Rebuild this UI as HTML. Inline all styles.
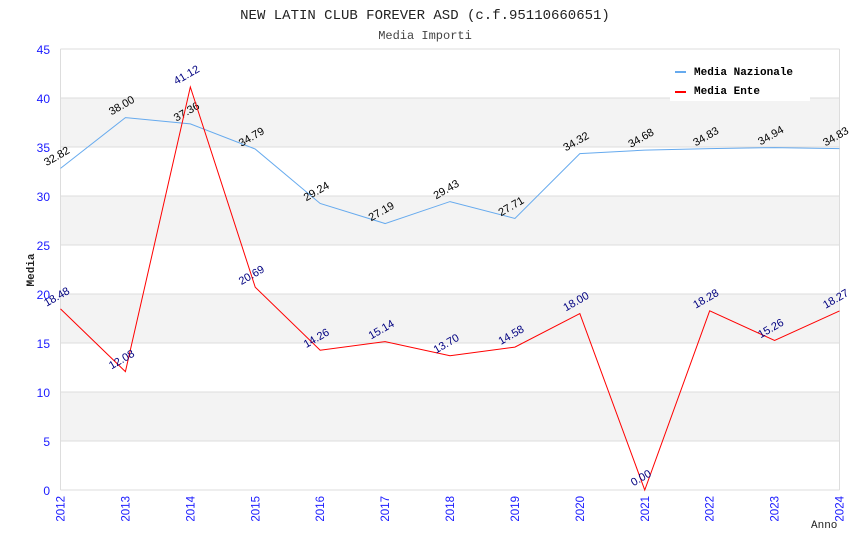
<!DOCTYPE html>
<html><head><meta charset="utf-8"><style>
html,body{margin:0;padding:0;background:#fff;}
svg{display:block;}
</style></head><body>
<svg id="chart" width="850" height="550" xmlns="http://www.w3.org/2000/svg">
<text x="425" y="19" text-anchor="middle" font-family="Liberation Mono, monospace" font-size="14" fill="#222">NEW LATIN CLUB FOREVER ASD (c.f.95110660651)</text>
<text x="425" y="39" text-anchor="middle" font-family="Liberation Mono, monospace" font-size="12" fill="#444">Media Importi</text>
<g id="bands"></g>
<g id="yticks"></g>
<g id="xticks"></g>
<g id="series"></g>
<text transform="translate(34,270) rotate(-90)" text-anchor="middle" font-family="Liberation Mono, monospace" font-size="11" font-weight="bold" fill="#222">Media</text>
<text x="811" y="528" font-family="Liberation Mono, monospace" font-size="11" fill="#222">Anno</text>
<g>
<rect x="670" y="55" width="140" height="46" fill="#fff"/>
<g>
<rect x="675" y="71" width="11" height="2" fill="#66aaee"/>
<text x="694" y="75" font-family="Liberation Mono, monospace" font-size="11" font-weight="bold" fill="#000">Media Nazionale</text></g>
<g>
<rect x="675" y="91" width="11" height="2" fill="#ff0000"/>
<text x="694" y="94" font-family="Liberation Mono, monospace" font-size="11" font-weight="bold" fill="#000">Media Ente</text></g>
</g>
</svg>
<script>
const years=[2012,2013,2014,2015,2016,2017,2018,2019,2020,2021,2022,2023,2024];
const nazionale=[32.82,38.00,37.36,34.79,29.24,27.19,29.43,27.71,34.32,34.68,34.83,34.94,34.83];
const ente=[18.48,12.08,41.12,20.69,14.26,15.14,13.70,14.58,18.00,0.00,18.28,15.26,18.27];
const yTicks=[0,5,10,15,20,25,30,35,40,45];
const NS='http://www.w3.org/2000/svg';
const L=60.5,R=839.5,T=49,B=490,yMax=45;
function xs(i){return L+(R-L)*i/(years.length-1);}
function ys(v){return B-(B-T)*v/yMax;}
function mk(tag,attrs,parent){const e=document.createElementNS(NS,tag);for(const k in attrs)e.setAttribute(k,attrs[k]);parent.appendChild(e);return e;}
const bands=document.getElementById('bands');
for(let i=0;i<yTicks.length-1;i++){
  if(i%2===1){const r=mk('rect',{x:L,y:ys(yTicks[i+1]),width:R-L,height:ys(yTicks[i])-ys(yTicks[i+1]),fill:'#f3f3f3'},bands);
  
  }
}
const yt=document.getElementById('yticks');
yTicks.forEach(v=>{
  const l=mk('line',{x1:L,x2:R,y1:ys(v),y2:ys(v),stroke:'#dddddd','stroke-width':1},yt);
  
  
  const t=mk('text',{x:50,y:ys(v)+5,'text-anchor':'end','font-family':'Liberation Sans, sans-serif','font-size':12,fill:'#1a1aff'},yt);
  t.textContent=v;
  
  
});
mk('line',{x1:L,x2:L,y1:T,y2:B,stroke:'#dddddd'},yt);
mk('line',{x1:R,x2:R,y1:T,y2:B,stroke:'#dddddd'},yt);
const xt=document.getElementById('xticks');
years.forEach((y,i)=>{
  const t=mk('text',{transform:`translate(${xs(i)+4},${B+6}) rotate(-90)`,'text-anchor':'end','font-family':'Liberation Sans, sans-serif','font-size':11.5,fill:'#1a1aff'},xt);
  t.textContent=y;
  
  
});
const sg=document.getElementById('series');
function drawSeries(vals,color,labelColor,name){
  const p=mk('polyline',{points:vals.map((v,i)=>xs(i)+','+ys(v)).join(' '),fill:'none',stroke:color,'stroke-width':1},sg);
  
  
  vals.forEach((v,i)=>{
    const t=mk('text',{transform:`translate(${xs(i)-2},${ys(v)-9}) rotate(-30)`,'text-anchor':'middle','font-family':'Liberation Sans, sans-serif','font-size':11,fill:labelColor},sg);
    t.textContent=v.toFixed(2);
    
    
  });
}
drawSeries(nazionale,'#66aaee','#000','nazionale');
drawSeries(ente,'#ff0000','#000080','ente');
</script>
</body></html>
